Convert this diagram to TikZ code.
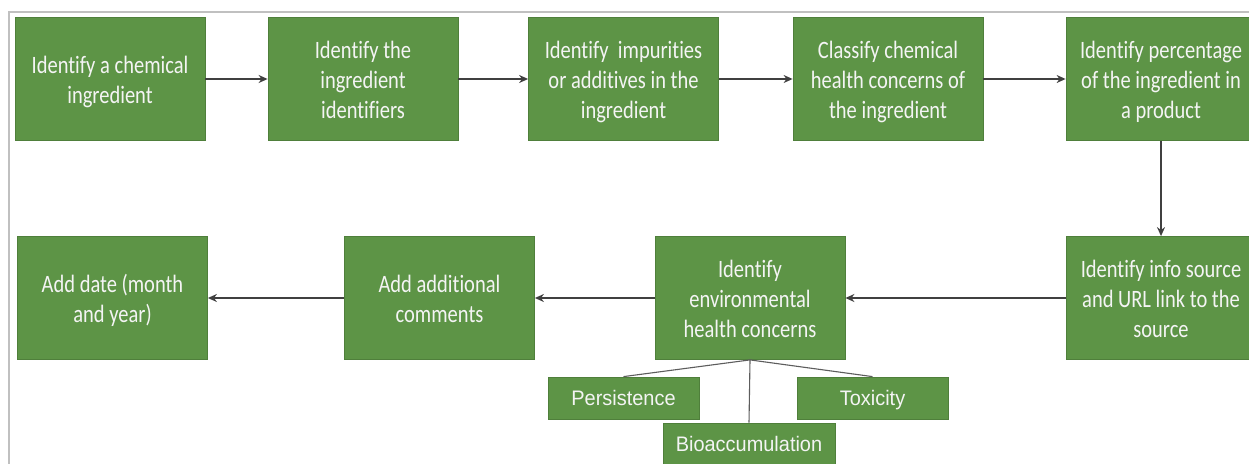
\documentclass[tikz,border=0pt]{standalone}
\usepackage{fontspec}
\setmainfont[FakeStretch=0.82, Ligatures=NoCommon]{Carlito}
\newfontfamily\subfont[FakeStretch=0.95]{Liberation Sans}
\usetikzlibrary{arrows.meta}
\definecolor{boxgreen}{HTML}{5D9446}
\definecolor{boxedge}{HTML}{4F7F3B}
\definecolor{boxtext}{HTML}{F4F4F4}
\definecolor{framegray}{HTML}{C0C0C0}
\definecolor{linegray}{HTML}{404040}
\newcommand\mytopstrut{\rule{0pt}{25pt}}
\newcommand\mybotstrut{\rule[-7pt]{0pt}{7pt}}
\tikzset{
  stepbox/.style={draw=boxedge, line width=0.8pt, fill=boxgreen, text=boxtext,
    minimum width=190pt, minimum height=123pt, inner sep=0pt, align=center,
    font=\fontsize{25}{30}\selectfont},
  subbox/.style={draw=boxedge, line width=0.8pt, fill=boxgreen, text=boxtext,
    minimum height=42pt, inner sep=0pt, align=center, text height=17pt, text depth=3pt,
    font=\subfont\fontsize{21}{24}\selectfont},
  flow/.style={draw=linegray, line width=1.3pt, -{Stealth[length=9pt,width=8pt]}},
  branch/.style={draw=linegray!85, line width=1.1pt},
  framestyle/.style={draw=framegray, line width=2pt}
}
\begin{document}
\begin{tikzpicture}[x=1pt,y=-1pt]
\useasboundingbox (0,0) rectangle (1249,463);
\clip (0,0) rectangle (1249,463);
\fill[white] (0,0) rectangle (1249,463);
\draw[framestyle] (9,480) -- (9,12) -- (1270,12);

\node[stepbox] (n1) at (110,79) {\mytopstrut Identify a chemical\\ingredient\mybotstrut};
\node[stepbox] (n2) at (363,79) {\mytopstrut Identify the\\ingredient\\identifiers\mybotstrut};
\node[stepbox] (n3) at (623.5,79) {\mytopstrut Identify\ \ impurities\\or additives in the\\ingredient\mybotstrut};
\node[stepbox] (n4) at (888,79) {\mytopstrut Classify chemical\\health concerns of\\the ingredient\mybotstrut};
\node[stepbox] (n5) at (1161,79) {\mytopstrut Identify percentage\\of the ingredient in\\a product\mybotstrut};

\node[stepbox] (n6) at (1161,298) {\mytopstrut Identify info source\\and URL link to the\\source\mybotstrut};
\node[stepbox] (n7) at (750,298) {\mytopstrut Identify\\environmental\\health concerns\mybotstrut};
\node[stepbox] (n8) at (439.5,298) {\mytopstrut Add additional\\comments\mybotstrut};
\node[stepbox] (n9) at (112.5,298) {\mytopstrut Add date (month\\and year)\mybotstrut};

\node[subbox, minimum width=151pt] (p) at (623.5,398) {Persistence};
\node[subbox, minimum width=151pt] (t) at (872.5,398) {Toxicity};
\node[subbox, minimum width=172pt] (b) at (749,444) {Bioaccumulation};

\draw[flow] (n1) -- (n2);
\draw[flow] (n2) -- (n3);
\draw[flow] (n3) -- (n4);
\draw[flow] (n4) -- (n5);
\draw[flow] (n5) -- (n6);
\draw[flow] (n6) -- (n7);
\draw[flow] (n7) -- (n8);
\draw[flow] (n8) -- (n9);

\draw[branch] (n7.south) -- (p.north);
\draw[branch] (n7.south) -- (t.north);
\draw[branch] (n7.south) -- (b.north);
\end{tikzpicture}
\end{document}
